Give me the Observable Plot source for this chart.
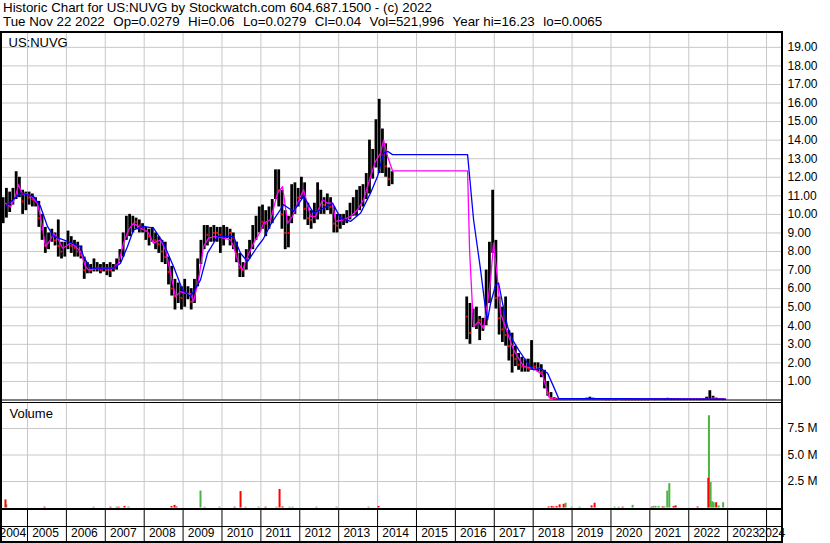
<!DOCTYPE html>
<html><head><meta charset="utf-8">
<script src="https://cdn.jsdelivr.net/npm/d3@7"></script>
<script src="https://cdn.jsdelivr.net/npm/@observablehq/plot@0.6"></script>
<style>
html,body{margin:0;padding:0;background:#fff;}
#chart{position:relative;width:830px;height:543px;overflow:hidden;font-family:"Liberation Sans",Arial,sans-serif;color:#000;}
.hdr{position:absolute;left:3px;font-size:13.33px;line-height:13px;white-space:pre;}
.hdr span + span{margin-left:8.5px;}
.abs{position:absolute;}
.ln{position:absolute;background:#000;}
</style></head><body>
<div id="chart">
  <div class="hdr" style="top:1px">Historic Chart for US:NUVG by Stockwatch.com 604.687.1500 - (c) 2022</div>
  <div class="hdr" id="info" style="top:15px"></div>
  <div id="price" class="abs" style="left:0;top:31px"></div>
  <div id="vol" class="abs" style="left:0;top:401px"></div>
  <div class="ln" style="left:0;top:31px;width:783px;height:2px"></div>
  <div class="ln" style="left:0;top:508px;width:783px;height:2px"></div>
  <div class="ln" style="left:0;top:526px;width:782px;height:1px"></div>
  <div class="ln" style="left:0;top:541px;width:783px;height:2px"></div>
  <div class="ln" style="left:0;top:31px;width:2px;height:512px"></div>
  <div class="ln" style="left:781px;top:31px;width:2px;height:512px"></div>
</div>
<script>
// ---------- data ----------
const infoFields = ["Tue Nov 22 2022","Op=0.0279","Hi=0.06","Lo=0.0279","Cl=0.04","Vol=521,996","Year hi=16.23","lo=0.0065"];
const years = [2004,2005,2006,2007,2008,2009,2010,2011,2012,2013,2014,2015,2016,2017,2018,2019,2020,2021,2022,2023,2024];
const priceTicks = [1,2,3,4,5,6,7,8,9,10,11,12,13,14,15,16,17,18,19];
const volTicks = [2.5, 5, 7.5];

// monthly bars, segment A: 2004-05 .. 2014-05
const hiA = [
 10.9,11.4,11.2,11.4,12.3,12.0,11.3,11.2,
 11.2,11.1,10.9,10.7,10.0,9.3,9.0,9.2,9.0,9.7,8.5,8.5,
 9.1,8.8,8.6,8.5,8.3,7.7,7.4,7.3,7.6,7.4,7.3,7.4,
 7.3,7.4,7.3,7.6,8.1,9.0,9.9,10.0,9.9,9.8,9.7,9.5,
 9.3,9.2,9.3,9.0,8.8,8.6,8.5,7.7,7.2,6.5,6.3,6.1,
 6.5,6.1,6.0,6.5,7.6,8.6,9.4,9.4,9.3,9.4,9.3,9.3,
 9.4,9.3,9.2,9.0,8.5,7.9,7.4,8.1,8.6,9.4,9.9,10.4,
 10.5,10.2,10.4,10.8,12.4,12.4,11.3,10.2,9.9,11.6,11.7,11.4,
 12.0,11.7,10.6,10.2,10.6,11.7,11.3,10.9,11.1,10.9,10.4,10.0,
 10.0,10.0,10.2,10.6,10.9,11.3,11.5,11.6,12.2,14.0,13.5,15.1,
 16.2,14.6,13.8,12.5,12.3];
const loA = [
 9.5,9.8,10.1,10.5,10.8,10.9,10.0,10.2,
 10.5,10.4,10.4,9.3,8.6,7.9,8.1,8.5,8.3,7.7,7.6,7.7,
 8.1,7.9,7.7,7.7,7.6,6.5,6.8,6.8,6.9,6.9,6.8,6.9,
 6.7,6.6,6.9,7.0,7.4,7.7,8.6,8.8,9.0,9.2,9.0,9.0,
 8.6,8.3,8.5,8.1,7.9,7.4,7.3,6.2,5.6,4.85,5.2,4.85,
 5.0,5.4,4.85,5.2,6.1,7.3,8.1,8.3,8.5,8.5,8.5,7.9,
 8.3,8.7,8.3,8.1,7.4,6.6,6.6,7.0,7.6,8.1,8.6,9.0,
 9.2,8.8,9.2,9.5,10.8,10.4,9.2,8.1,8.2,9.5,10.0,10.4,
 10.8,9.7,9.4,9.2,9.5,9.7,10.0,10.0,10.2,10.0,9.0,9.0,
 9.2,9.4,9.5,9.7,9.9,9.9,10.2,10.4,10.8,11.1,11.9,12.5,
 12.2,12.2,12.0,11.5,11.6];
const clA = [
 10.3,10.6,10.6,10.8,11.5,11.6,10.7,10.9,
 10.9,10.8,10.7,9.8,9.2,8.3,8.6,8.9,8.6,8.3,8.0,8.1,
 8.6,8.3,8.2,8.0,7.8,7.0,7.1,7.0,7.1,7.1,7.0,7.1,
 7.0,7.0,7.1,7.3,7.8,8.5,9.3,9.4,9.6,9.6,9.4,9.3,
 9.1,8.8,8.9,8.6,8.4,8.0,7.7,6.9,6.0,5.6,5.9,5.5,
 5.6,5.8,5.3,5.9,6.9,8.0,8.9,8.9,9.0,9.0,9.0,8.9,
 9.0,9.1,9.0,8.7,7.9,7.1,7.0,7.6,8.2,8.8,9.3,9.8,
 9.6,9.5,9.9,10.2,11.5,11.3,10.0,9.0,9.0,10.5,10.9,10.9,
 11.3,10.3,9.8,9.7,10.0,10.4,10.5,10.5,10.6,10.4,9.5,9.4,
 9.5,9.7,9.9,10.1,10.4,10.6,10.8,11.0,11.4,12.5,12.6,13.5,
 13.8,13.2,12.6,11.9,12.0];

// segment B: 2016-04 .. 2022-11
const hiB = [
 5.55,5.2,4.9,5.0,4.5,4.4,7.0,8.5,11.3,
 8.6,5.55,5.0,5.55,3.75,3.6,2.9,2.5,2.3,2.2,2.2,3.2,
 2.0,2.0,1.9,1.6,1.0,0.4,0.12,0.09,0.08,0.08,0.07,0.07,
 0.07,0.07,0.08,0.08,0.1,0.15,0.1,0.08,0.07,0.06,0.06,0.06,
 0.06,0.06,0.08,0.06,0.05,0.05,0.05,0.05,0.05,0.05,0.05,0.05,
 0.06,0.06,0.08,0.07,0.07,0.09,0.08,0.07,0.06,0.06,0.06,0.05,
 0.05,0.05,0.05,0.05,0.06,0.15,0.5,0.2,0.1,0.08,0.06];
const loB = [
 3.25,3.0,3.9,3.8,3.2,3.7,4.0,5.2,7.9,
 4.9,3.5,3.1,2.9,2.1,1.45,1.8,1.6,1.5,1.5,1.5,1.6,
 1.6,1.5,1.2,0.6,0.2,0.05,0.03,0.03,0.02,0.02,0.02,0.02,
 0.02,0.02,0.02,0.02,0.02,0.02,0.02,0.02,0.02,0.02,0.02,0.02,
 0.01,0.01,0.01,0.01,0.01,0.01,0.01,0.01,0.01,0.01,0.01,0.01,
 0.02,0.02,0.02,0.02,0.02,0.02,0.02,0.02,0.02,0.02,0.02,0.02,
 0.02,0.02,0.02,0.02,0.02,0.03,0.03,0.03,0.03,0.03,0.03];
const clB = [
 4.5,3.6,4.4,4.6,4.3,4.0,6.0,7.0,8.6,
 5.5,4.4,3.8,3.5,2.9,2.4,2.2,1.9,1.8,1.8,1.7,1.8,
 1.8,1.7,1.5,1.0,0.4,0.1,0.06,0.05,0.05,0.04,0.04,0.04,
 0.04,0.04,0.05,0.05,0.06,0.07,0.05,0.05,0.04,0.04,0.03,0.03,
 0.03,0.03,0.04,0.03,0.03,0.03,0.03,0.03,0.03,0.03,0.03,0.03,
 0.04,0.04,0.05,0.04,0.04,0.05,0.04,0.04,0.04,0.04,0.04,0.04,
 0.04,0.04,0.04,0.04,0.04,0.08,0.2,0.1,0.06,0.05,0.04];

// moving averages (decimal years)
const maShortT = [2004.434,2004.563,2004.691,2004.769,2004.871,2005.000,2005.129,2005.257,2005.334,2005.463,2005.591,2005.669,2005.797,2005.900,2005.977,2006.106,2006.234,2006.363,2006.491,2006.569,2006.877,2007.211,2007.340,2007.469,2007.597,2007.726,2007.906,2008.086,2008.240,2008.420,2008.549,2008.677,2008.806,2008.934,2009.063,2009.191,2009.268,2009.397,2009.526,2009.654,2009.834,2010.040,2010.220,2010.297,2010.426,2010.528,2010.657,2010.811,2010.991,2011.068,2011.248,2011.428,2011.557,2011.686,2011.814,2011.943,2012.097,2012.277,2012.406,2012.586,2012.714,2012.843,2012.920,2013.125,2013.305,2013.485,2013.640,2013.820,2013.948,2014.077,2014.154,2014.257,2014.385,2016.314,2016.365,2016.443,2016.468,2016.597,2016.725,2016.828,2016.905,2016.982,2017.085,2017.162,2017.342,2017.497,2017.754,2018.011,2018.242,2018.397,2018.525,2022.948];
const maShortV = [10.6,10.4,10.97,11.6,11.1,11.1,10.9,10.6,9.9,8.27,8.63,8.99,8.63,8.18,8.27,8.45,8.27,8.0,7.19,7.01,7.1,7.1,7.37,8.45,9.17,9.53,9.26,9.08,8.45,8.63,8.09,6.83,5.57,5.84,5.75,5.75,5.3,6.47,8.27,8.72,8.81,8.72,8.63,8.27,7.37,7.01,7.73,8.45,9.08,9.53,9.71,11.15,11.5,9.53,9.89,10.6,11.33,9.89,9.89,10.79,10.6,10.6,9.62,9.71,9.89,10.25,10.79,12.05,12.86,13.3,14.0,13.12,12.35,12.35,8.09,4.85,3.95,4.22,3.86,5.21,6.47,8.45,6.47,4.67,3.6,2.7,1.8,1.71,1.35,0.18,0.04,0.05];
const maLongT = [2004.434,2004.820,2005.154,2005.334,2005.514,2005.669,2005.926,2006.363,2006.440,2006.620,2007.211,2007.391,2007.571,2007.726,2007.983,2008.240,2008.497,2008.754,2008.986,2009.191,2009.448,2009.628,2009.886,2010.297,2010.477,2010.657,2010.914,2011.068,2011.248,2011.583,2011.840,2012.097,2012.354,2012.611,2012.843,2013.048,2013.305,2013.563,2013.820,2014.000,2014.154,2014.257,2014.385,2016.314,2016.468,2016.648,2016.777,2016.828,2016.905,2017.034,2017.111,2017.214,2017.342,2017.471,2017.625,2017.857,2018.011,2018.191,2018.371,2018.525,2018.654,2022.948];
const maLongV = [10.43,11.15,10.97,10.43,9.35,8.81,8.63,8.27,7.73,7.10,7.10,7.37,8.27,9.17,9.35,9.26,8.45,7.19,5.93,5.57,6.47,7.91,8.81,8.81,7.91,7.46,8.27,8.7,9.45,10.52,10.16,10.97,10.07,10.34,10.61,9.80,9.62,10.07,11.15,12.05,13.30,13.40,13.22,13.22,9.71,7.01,4.85,4.31,5.2,6.2,6.3,5.2,3.95,3.24,2.7,1.98,1.62,1.71,1.44,0.72,0.09,0.05];

// volume (millions)
const volT = [2004.434,2004.455,2005.437,2006.697,2007.134,2007.288,2007.340,2007.494,2007.597,2008.703,2008.780,2008.831,2009.448,2009.551,2009.937,2010.323,2010.477,2010.606,2010.940,2011.120,2011.403,2011.480,2011.557,2011.737,2011.814,2012.431,2012.945,2013.768,2014.025,2018.397,2018.474,2018.525,2018.603,2018.680,2018.783,2018.834,2018.988,2019.194,2019.502,2019.579,2020.093,2020.196,2020.299,2020.556,2021.045,2021.096,2021.148,2021.225,2021.328,2021.379,2021.448,2021.500,2021.611,2021.662,2022.228,2022.503,2022.519,2022.562,2022.601,2022.640,2022.704,2022.768,2022.884];
const volV = [0.77,0.3,0.08,0.08,0.08,0.08,0.08,0.15,0.1,0.15,0.25,0.1,1.6,0.08,0.08,0.08,1.55,0.08,0.08,0.08,0.08,1.75,0.1,0.08,0.08,0.08,0.08,0.08,0.15,0.1,0.15,0.1,0.15,0.3,0.35,0.45,0.08,0.08,0.2,0.45,0.08,0.08,0.08,0.25,0.08,0.15,0.15,0.15,0.1,0.1,1.6,2.3,0.15,0.2,0.1,2.8,8.7,2.4,0.6,0.5,0.5,0.2,0.5];
const volDir = ["d","u","d","u","d","u","d","d","u","d","d","d","u","u","u","d","d","u","u","d","u","d","d","u","u","u","u","u","d","d","d","d","d","d","d","u","u","u","d","d","u","u","d","u","d","u","u","u","d","u","u","u","d","d","d","d","u","u","u","u","d","u","u"];

// ---------- header line 2 ----------
const info = document.getElementById("info");
infoFields.forEach(f => { const s = document.createElement("span"); s.textContent = f; info.appendChild(s); });

// ---------- build ----------
const X0 = 2004.306, X1 = 2024.41, W = 830, MR = 48;
const pxPerYear = (W - MR) / (X1 - X0);
const monthT = d => d.getUTCFullYear() + (d.getUTCMonth() + 0.5) / 12;
const monthsA = d3.utcMonth.range(new Date(Date.UTC(2004,4,1)), new Date(Date.UTC(2014,5,1)));
const monthsB = d3.utcMonth.range(new Date(Date.UTC(2016,3,1)), new Date(Date.UTC(2022,11,1)));
const bars = [
  ...monthsA.map((m,i) => ({t: monthT(m), hi: hiA[i], lo: loA[i], cl: clA[i]})),
  ...monthsB.map((m,i) => ({t: monthT(m), hi: hiB[i], lo: loB[i], cl: clB[i]}))
];
const downs = bars.filter((d,i) => i > 0 && d.cl <= bars[i-1].cl);
const maShort = maShortT.map((t,i) => ({t, v: maShortV[i]}));
const maLong = maLongT.map((t,i) => ({t, v: maLongV[i]}));
const vols = volT.map((t,i) => ({t, v: volV[i], dir: volDir[i]}));

const font = {fontFamily: "'Liberation Sans', Arial, sans-serif", fontSize: "12px", color: "#000", background: "transparent", overflow: "visible"};
const grid = "#c8c8c8";

const price = Plot.plot({
  width: W, height: 370, marginLeft: 0, marginRight: MR, marginTop: 1, marginBottom: 1.5,
  style: font,
  x: {type: "linear", domain: [X0, X1], axis: null},
  y: {domain: [0, 19.8], axis: null},
  marks: [
    Plot.gridY(priceTicks, {stroke: grid, strokeOpacity: 1}),
    Plot.gridX(years, {stroke: grid, strokeOpacity: 1}),
    Plot.ruleX(bars, {x: "t", y1: "lo", y2: "hi", stroke: "#000", strokeWidth: 2.8}),
    Plot.dot(downs, {x: "t", y: "cl", r: 1.1, fill: "#ff0000", stroke: null}),
    Plot.line(maShort, {x: "t", y: "v", stroke: "#ff00ff", strokeWidth: 1.3}),
    Plot.line(maLong, {x: "t", y: "v", stroke: "#0000ff", strokeWidth: 1.3}),
    Plot.axisY(priceTicks, {anchor: "right", label: null, tickSize: 0, tickPadding: 5, tickFormat: d => d.toFixed(2), fontSize: 12}),
    Plot.text(["US:NUVG"], {frameAnchor: "top-left", dx: 8, dy: 5, lineAnchor: "top", textAnchor: "start", fontSize: 13}),
    Plot.frame({stroke: "#000", strokeWidth: 1})
  ]
});
document.getElementById("price").appendChild(price);

const labelX = d => Math.min(Math.max(d + 4.7 / pxPerYear, X0 - 1 / pxPerYear), X0 + 758 / pxPerYear);

const vol = Plot.plot({
  width: W, height: 142, marginLeft: 0, marginRight: MR, marginTop: 1, marginBottom: 34,
  style: font,
  x: {type: "linear", domain: [X0, X1], axis: null},
  y: {domain: [0, 10], range: [106.5, 0.5], axis: null},
  marks: [
    Plot.gridY(volTicks, {stroke: grid, strokeOpacity: 1}),
    Plot.gridX(years, {stroke: grid, strokeOpacity: 1}),
    Plot.ruleX(vols.filter(d => d.dir === "u"), {x: "t", y1: 0, y2: "v", stroke: "#4bb443", strokeWidth: 2}),
    Plot.ruleX(vols.filter(d => d.dir === "d"), {x: "t", y1: 0, y2: "v", stroke: "#ff0000", strokeWidth: 2}),
    Plot.axisY(volTicks, {anchor: "right", label: null, tickSize: 0, tickPadding: 5, tickFormat: d => d.toFixed(1) + " M", fontSize: 12}),
    Plot.axisX(years.filter(y => y > X0), {anchor: "bottom", label: null, tickSize: 34, tickPadding: 0, tickFormat: () => "", stroke: "#000"}),
    Plot.text(years, {x: labelX, text: d => String(d), frameAnchor: "bottom", dy: 27.5, textAnchor: "start", fontSize: 12}),
    Plot.text(["Volume"], {frameAnchor: "top-left", dx: 9, dy: 6, lineAnchor: "top", textAnchor: "start", fontSize: 13}),
    Plot.frame({stroke: "#000", strokeWidth: 1})
  ]
});
document.getElementById("vol").appendChild(vol);
</script>
</body></html>
